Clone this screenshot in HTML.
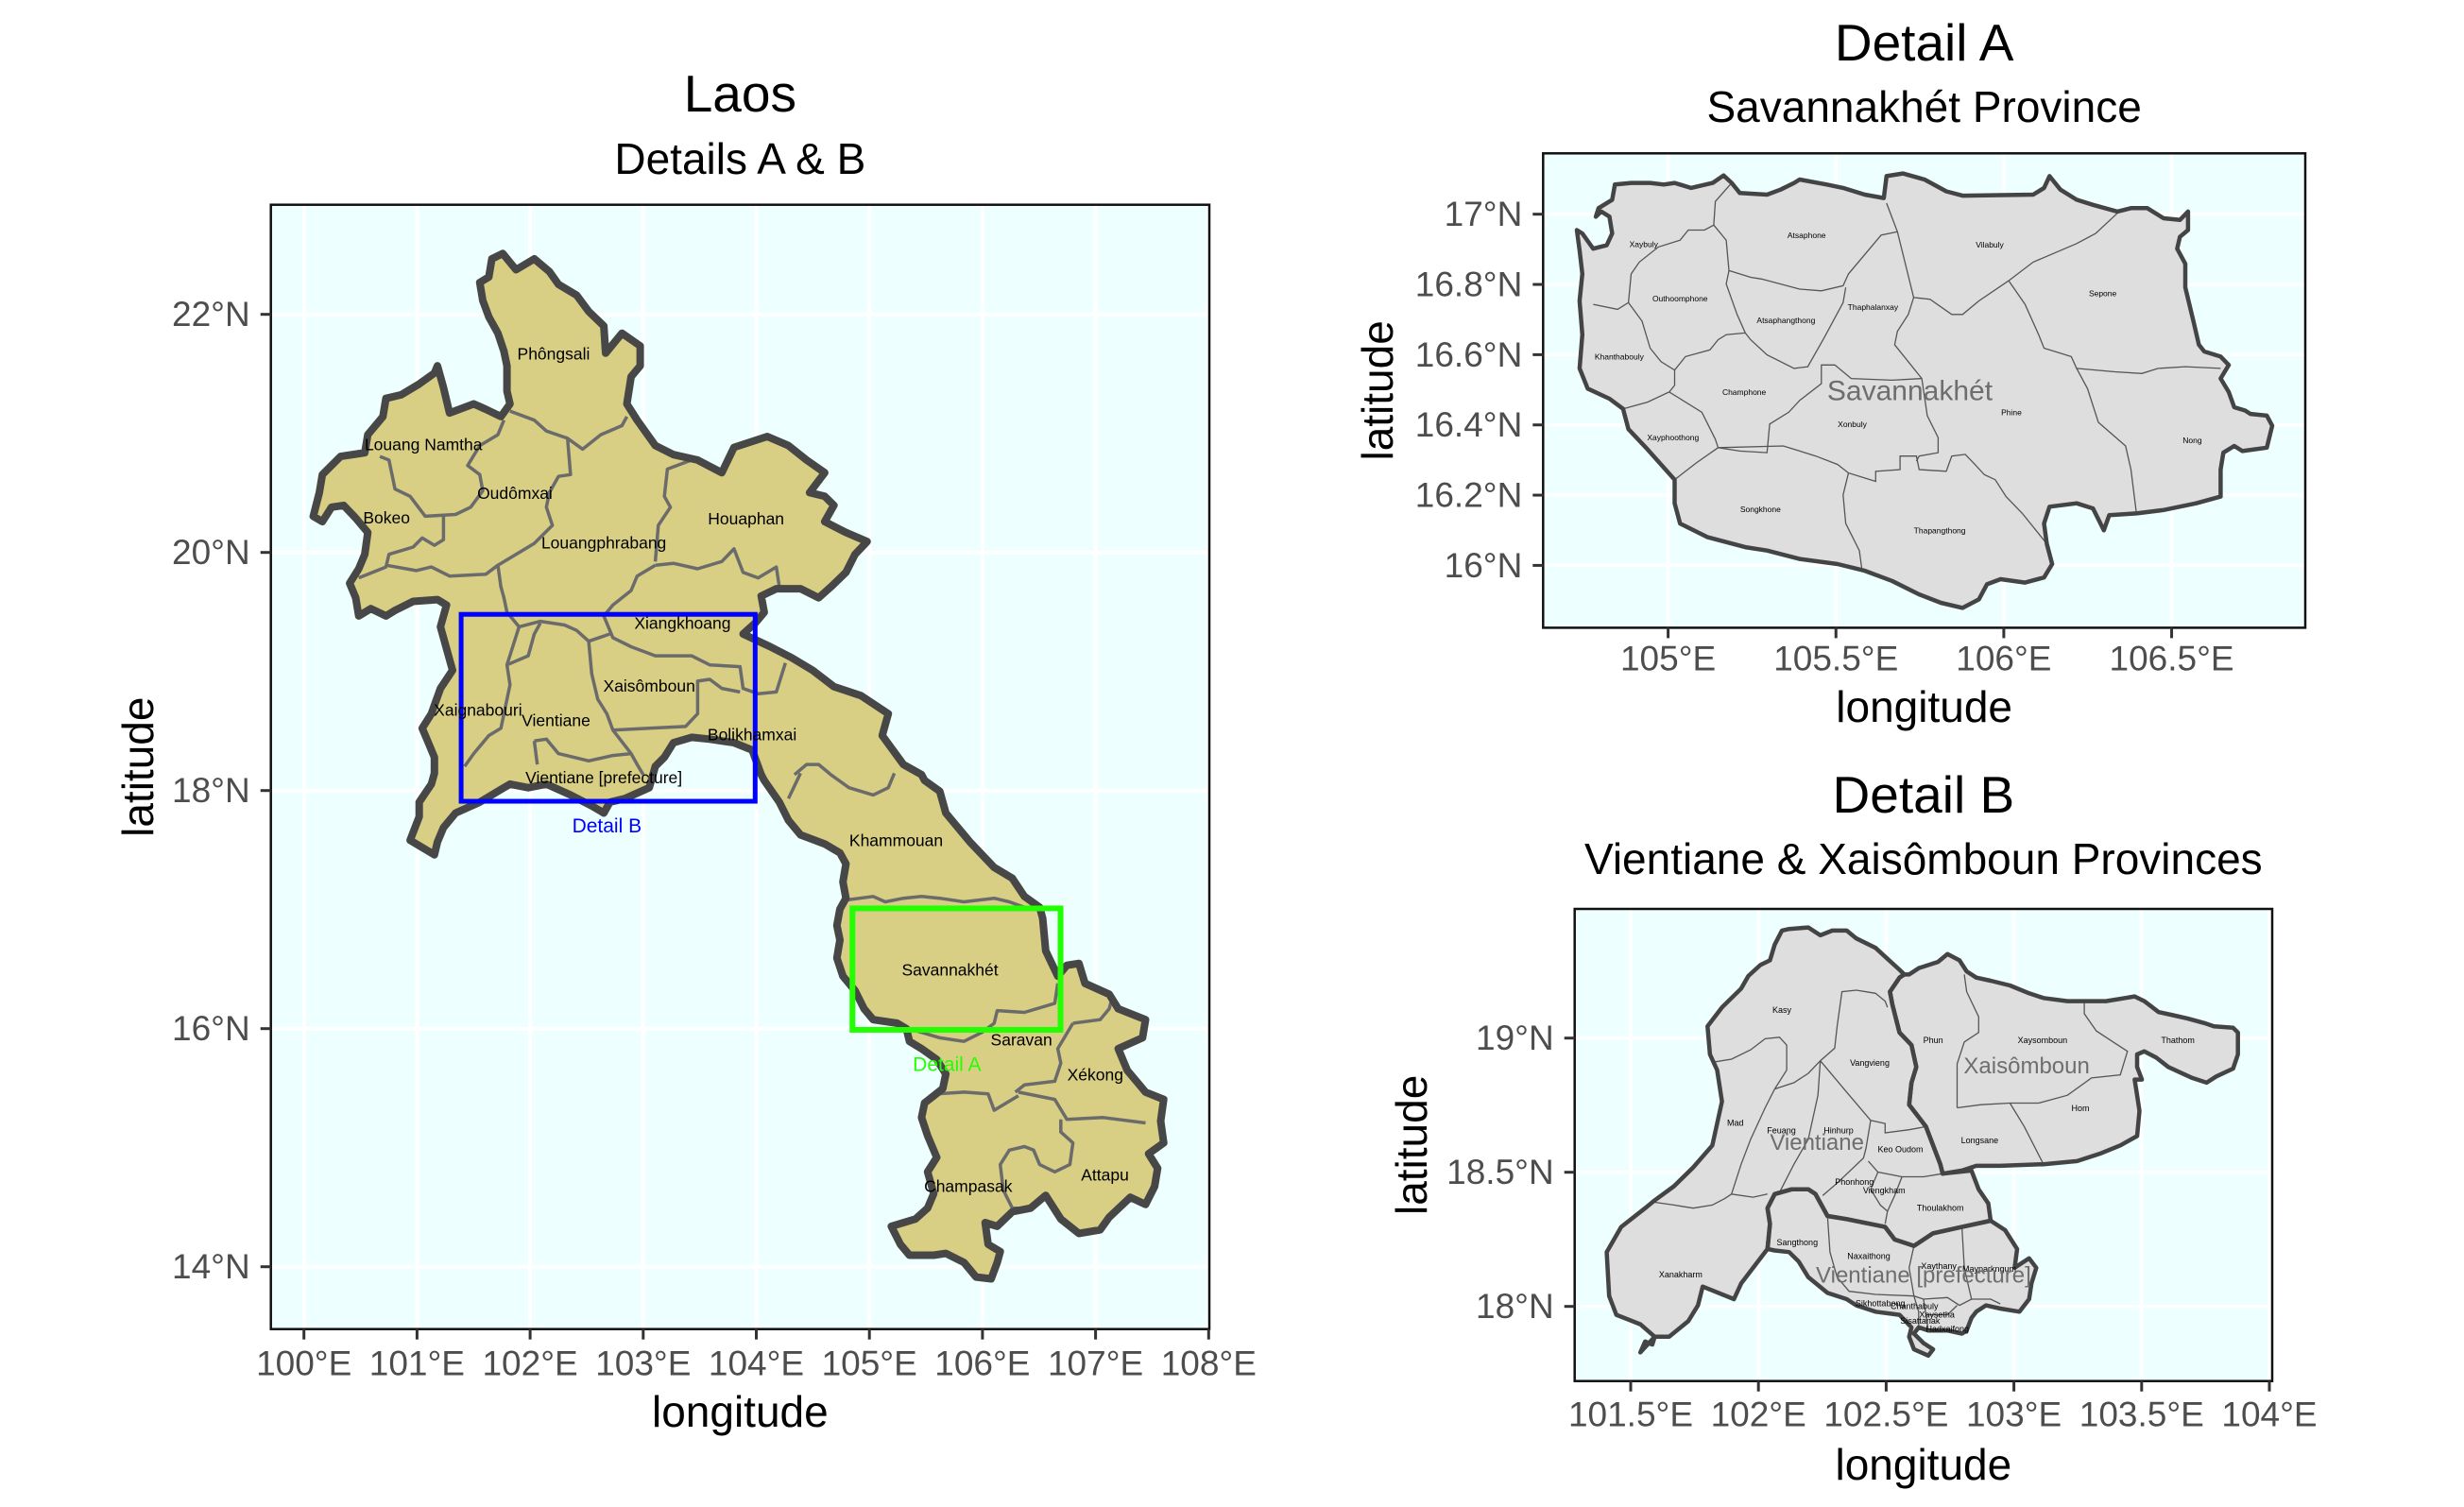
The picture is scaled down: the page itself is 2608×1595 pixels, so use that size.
<!DOCTYPE html>
<html><head><meta charset="utf-8">
<style>
html,body{margin:0;padding:0;background:#fff;}
svg{display:block;font-family:"Liberation Sans",Arial,sans-serif;}
</style></head>
<body>
<svg id="root" width="2608" height="1595" viewBox="0 0 2608 1595" xmlns="http://www.w3.org/2000/svg">
<rect x="0" y="0" width="2608" height="1595" fill="#ffffff"/>
<g id="main"></g>
<g id="detA"></g>
<g id="detB"></g>
</svg>
<script>
// ---------- data arrays ----------
const mainLonTicks=[100,101,102,103,104,105,106,107,108];
const mainLatTicks=[14,16,18,20,22];
const aLonTicks=[105,105.5,106,106.5];
const aLatTicks=[16,16.2,16.4,16.6,16.8,17];
const bLonTicks=[101.5,102,102.5,103,103.5,104];
const bLatTicks=[18,18.5,19];
const boxB=[101.39,103.99,17.91,19.48];
const boxA=[104.85,106.69,15.99,17.01];

const NS="http://www.w3.org/2000/svg";
function el(tag,attrs,parent){const e=document.createElementNS(NS,tag);for(const k in attrs)e.setAttribute(k,attrs[k]);parent.appendChild(e);return e;}
function txt(parent,x,y,s,size,fill,anchor,extra){const t=el('text',Object.assign({x:x,y:y,'font-size':size,fill:fill,'text-anchor':anchor||'middle','dominant-baseline':'central'},extra||{}),parent);t.textContent=s;return t;}
function fmt(v){return (Math.round(v*10)/10).toString();}

const TITLE=55, SUB=46, AXT=46, TICK=37;

// ---------- axis functions ----------
const M={x0:286.7,x1:1280,y0:216.7,y1:1406.7,lx:lon=>321.7+(lon-100)*119.7,ly:lat=>332.7+(22-lat)*126};
const A={x0:1633.3,x1:2440,y0:162.3,y1:664.4,lx:lon=>1765.6+(lon-105)*355.3,ly:lat=>226.7+(17-lat)*371.7};
const B={x0:1666.7,x1:2405,y0:962,y1:1461.7,lx:lon=>1726+(lon-101.5)*270.4,ly:lat=>1240.7+(18.5-lat)*284};

const zm=(p)=>[290+p[0]*0.6406,218.4+p[1]*0.3836];
const za=(p)=>[1600+p[0]*0.575,140+p[1]*0.357];
const zb=(p)=>[1660+p[0]*0.508,960+p[1]*0.332];
function pathD(pts,f,close){return pts.map((p,i)=>{const q=f(p);return (i?'L':'M')+q[0].toFixed(1)+' '+q[1].toFixed(1);}).join('')+(close?'Z':'');}
function flat(a){const r=[];for(let i=0;i<a.length;i+=2)r.push([a[i],a[i+1]]);return r;}

function panel(g,P,lonT,latT,gw,name){
  const bg=el('rect',{x:P.x0,y:P.y0,width:P.x1-P.x0,height:P.y1-P.y0,fill:'#edffff'},g);
  
  
  lonT.forEach(v=>{const x=P.lx(v);const l=el('line',{x1:x,x2:x,y1:P.y0,y2:P.y1,stroke:'#fff','stroke-width':gw},g);
    
    });
  latT.forEach(v=>{const y=P.ly(v);const l=el('line',{x1:P.x0,x2:P.x1,y1:y,y2:y,stroke:'#fff','stroke-width':gw},g);
    
    });
}
function frame(g,P,lonT,latT,lonFmt,latFmt,tickY,name){
  const f=el('rect',{x:P.x0,y:P.y0,width:P.x1-P.x0,height:P.y1-P.y0,fill:'none',stroke:'#111','stroke-width':2.5},g);
  
  
  lonT.forEach(v=>{const x=P.lx(v);el('line',{x1:x,x2:x,y1:P.y1,y2:P.y1+11,stroke:'#333','stroke-width':3},g);
    const t=txt(g,x,tickY,lonFmt(v),TICK,'#4d4d4d');
    
    });
  latT.forEach(v=>{const y=P.ly(v);el('line',{x1:P.x0-11,x2:P.x0,y1:y,y2:y,stroke:'#333','stroke-width':3},g);
    const t=txt(g,P.x0-22,y,latFmt(v),TICK,'#4d4d4d','end');
    
    });
}

// ================= MAIN MAP =================
const gm=document.getElementById('main');
panel(gm,M,mainLonTicks,mainLatTicks,4,'main');
const outline=flat([378,130,400,175,430,145,455,180,470,215,500,245,520,290,545,330,548,405,575,350,605,385,605,440,590,470,583,545,600,590,630,660,660,685,700,700,740,735,760,665,815,635,850,660,880,700,910,735,885,790,910,800,925,825,910,870,945,900,980,925,960,960,945,1010,920,1050,900,1080,870,1055,830,1055,805,1075,810,1120,795,1150,775,1180,820,1215,855,1245,890,1280,925,1325,970,1350,1015,1400,1005,1460,1040,1540,1070,1568,
1075,1584,1100,1614,1110,1674,1150,1754,1190,1824,1220,1854,1240,1904,1265,1934,1270,1964,1275,2054,1295,2124,1310,2094,1330,2089,1340,2144,1380,2174,1395,2214,1440,2244,1435,2294,1395,2324,1410,2384,1440,2444,1470,2464,1465,2524,1470,2584,1445,2614,1460,2654,1455,2704,1440,2754,1415,2734,1380,2789,1365,2824,1330,2834,1300,2794,1275,2729,1250,2764,1220,2774,1195,2814,1175,2804,1180,2864,1200,2884,1195,2914,1185,2959,1160,2954,1140,2914,1110,2889,1090,2894,1050,2894,1035,2864,1020,2814,1060,2794,1080,2764,1090,2724,1080,2664,1095,2624,1080,2564,1070,2514,1075,2474,1090,2454,1105,2434,1110,2394,1095,2354,1070,2324,1050,2304,1045,2269,1030,2254,990,2244,975,2214,960,2164,940,2124,930,2074,935,2024,930,1984,935,1939,945,1909,940,1864,945,1814,935,1784,910,1759,870,1734,850,1694,835,1644,810,1584,
805,1568,790,1500,760,1480,720,1470,690,1465,660,1480,645,1520,630,1545,620,1604,580,1634,555,1644,545,1674,525,1654,490,1624,450,1594,420,1604,390,1594,375,1609,340,1644,300,1674,280,1714,270,1754,265,1789,240,1764,225,1749,240,1684,240,1644,260,1594,265,1564,
265,1520,255,1480,245,1440,260,1400,275,1330,295,1280,285,1220,275,1160,285,1100,270,1085,230,1090,200,1115,185,1130,160,1110,140,1130,135,1080,125,1040,140,1000,150,960,155,900,135,860,115,825,95,830,80,870,65,855,75,790,80,740,110,690,150,680,155,630,180,580,185,530,210,520,240,490,265,460,270,440,280,500,290,570,330,545,350,560,375,580,390,545,385,510,385,440,380,400,370,350,355,305,345,260,340,210,355,195,360,145]);
const country=el('path',{d:pathD(outline,zm,true),fill:'#d8cf84',stroke:'none'},gm);


const borders=[
[390,565,430,590,450,620,485,640,510,670,540,630,575,605,583,580],
[380,590,370,630,340,660,320,715,340,740,345,785,325,830,300,850,250,855,225,800,200,780,190,700,175,690],
[485,640,490,740,470,745,455,790,450,830,460,880,430,930,400,960,370,990],
[280,855,280,920,265,935,245,915,230,940,190,960,185,995,140,1025],
[185,990,235,1005,260,995,290,1020,350,1015,370,990,375,1050,380,1080,385,1120,405,1160,385,1265,390,1320,375,1440,355,1460,330,1510,315,1545],
[690,700,650,725,645,800,655,830,635,880,630,980],
[630,990,660,985,700,1000,740,980,760,945,775,1010,800,1025,830,995,835,1050],
[630,990,600,1020,590,1060,560,1100,545,1130,560,1190,590,1215,630,1240,690,1240,720,1265,770,1270,775,1330,800,1345,830,1340,845,1260],
[405,1160,440,1145,480,1155,500,1170,520,1200,555,1180],
[520,1200,525,1290,535,1360,550,1400,560,1445,620,1440,680,1435,700,1400,700,1310,720,1305,740,1330,770,1340],
[385,1265,420,1240,430,1180,440,1150],
[430,1475,450,1470,470,1510,520,1530,560,1515,590,1510,600,1540,610,1568],
[430,1475,435,1540],
[560,1445,590,1510],
[860,1568,880,1540,900,1540,920,1568,950,1604,990,1624,1015,1604,1025,1564],
[870,1564,850,1634],
[945,1914,990,1904,1010,1919,1040,1909,1070,1904,1100,1909,1140,1919,1190,1909,1215,1919,1240,1934],
[1040,2264,1100,2294,1140,2304,1170,2279,1190,2254,1195,2219,1240,2224,1290,2199,1295,2144],
[1320,2254,1365,2244,1380,2214,1385,2184],
[1320,2254,1295,2324,1300,2364,1290,2414,1240,2424,1225,2444],
[1095,2449,1140,2444,1180,2449,1190,2494,1210,2474,1230,2454],
[1230,2444,1290,2464,1310,2519,1370,2514,1440,2529],
[1300,2519,1300,2554,1320,2584,1315,2644,1290,2664,1265,2644,1255,2604,1240,2594,1215,2604,1200,2644,1205,2714,1220,2764,1240,2764]
];
borders.forEach(b=>{const p=el('path',{d:pathD(flat(b),zm,false),fill:'none',stroke:'#6b6b6b','stroke-width':3.5,'stroke-linejoin':'round'},gm);
  
  });
const countryLine=el('path',{d:pathD(outline,zm,true),fill:'none',stroke:'#474747','stroke-width':8,'stroke-linejoin':'round'},gm);


const provNames=['Phôngsali','Louang Namtha','Oudômxai','Bokeo','Houaphan','Louangphrabang','Xiangkhoang','Xaisômboun','Xaignabouri','Vientiane','Bolikhamxai','Vientiane [prefecture]','Khammouan','Savannakhét','Saravan','Xékong','Attapu','Champasak'];
const provPos=[[462,407],[247,657],[398,792],[186,859],[780,862],[545,928],[675,1150],[620,1323],[337,1390],[466,1418],[790,1457],[545,1576],[1028,1750],[1117,2107],[1235,2299],[1357,2396],[1373,2672],[1147,2704]];
const rb=el('rect',{x:M.lx(boxB[0]),y:M.ly(boxB[3]),width:M.lx(boxB[1])-M.lx(boxB[0]),height:M.ly(boxB[2])-M.ly(boxB[3]),fill:'none',stroke:'#0000ff','stroke-width':5},gm);


const ra=el('rect',{x:M.lx(boxA[0]),y:M.ly(boxA[3]),width:M.lx(boxA[1])-M.lx(boxA[0]),height:M.ly(boxA[2])-M.ly(boxA[3]),fill:'none',stroke:'#22ff00','stroke-width':6},gm);


provNames.forEach((n,i)=>{const q=zm(provPos[i]);const t=txt(gm,q[0],q[1],n,17.5,'#000');
  
  });
{const q=zm([550,1711]);const t=txt(gm,q[0],q[1],'Detail B',21,'#0000ff');
 
 }
{const q=zm([1112,2369]);const t=txt(gm,q[0],q[1],'Detail A',21,'#22ff00');
 
 }
frame(gm,M,mainLonTicks,mainLatTicks,v=>v+'°E',v=>v+'°N',1443,'main');
{const cx=(M.x0+M.x1)/2;
 let t=txt(gm,cx,99,'Laos',TITLE,'#000');
 t=txt(gm,cx,168,'Details A & B',SUB,'#000');
 t=txt(gm,cx,1494,'longitude',AXT,'#000');
 t=txt(gm,0,0,'latitude',AXT,'#000','middle',{transform:'translate(146,'+((M.y0+M.y1)/2)+') rotate(-90)'});}

// ================= DETAIL A =================
const ga=document.getElementById('detA');
panel(ga,A,aLonTicks,aLatTicks,3.5,'detail-a');
const aOut=flat([155,250,165,235,180,250,185,300,175,335,150,345,130,300,120,290,125,350,130,420,125,500,130,600,125,700,140,760,180,790,205,820,215,880,250,940,300,1030,300,1100,310,1160,360,1200,430,1230,470,1240,530,1265,600,1280,650,1300,700,1330,750,1370,790,1395,830,1410,860,1385,875,1340,900,1325,945,1335,980,1320,995,1280,985,1220,980,1160,990,1110,1040,1100,1070,1115,1090,1180,1100,1135,1150,1130,1200,1120,1260,1100,1305,1080,1305,1000,1310,950,1330,930,1345,945,1390,935,1400,870,1390,840,1360,835,1350,825,1330,815,1320,770,1305,730,1320,690,1305,665,1275,650,1265,630,1255,560,1240,460,1240,390,1225,345,1230,310,1245,290,1245,235,1230,260,1200,255,1170,225,1140,225,1115,235,1070,215,1040,200,1010,170,990,130,980,165,960,185,830,188,800,175,760,140,720,122,690,130,685,195,650,185,610,165,580,155,530,140,520,150,495,170,470,185,420,180,405,150,390,128,370,150,330,165,300,150,280,155,255,150,220,150,190,155,185,200,160,225]);
let p=el('path',{d:pathD(aOut,za,true),fill:'#dedede',stroke:'none'},ga);


const aLines=[
[405,150,375,205,372,275,355,290,325,290,310,320,270,340,235,385,220,420,215,505,195,525,150,510],
[372,275,395,320,400,410,440,430,460,435,530,465,570,470,610,455,620,420,680,305,710,295,690,210],
[400,410,395,450,415,540,430,595,440,615,470,660,520,700,545,695,575,610,610,505,615,460],
[215,505,240,560,255,640,275,680,300,705,300,750,290,770,250,800,205,820],
[300,705,320,665,365,645,380,615,395,600,430,595],
[290,770,310,790,350,830,375,910,380,935,420,945,470,950,475,865,510,830,530,795,570,745,570,690,595,690,625,730,700,735,755,730],
[710,295,740,490,730,540,710,590,705,630,730,680,755,730,765,840,785,905,785,950,750,960,745,975],
[740,490,770,495,810,540,830,540,860,500,915,440,960,385,1040,330,1075,300,1115,240],
[915,440,945,510,970,600,980,640,1030,665,1040,700,1060,760,1080,860,1130,930,1140,1000,1150,1130],
[1040,700,1110,710,1160,715,1190,700,1240,695,1305,700],
[380,935,500,930,560,960,600,985,620,1010,670,1035,670,1005,715,1000,715,960,745,960,750,1000,800,1005,810,960,835,955,850,980,870,1015,890,1030,910,1080,940,1130,985,1220],
[620,1010,610,1075,615,1160,640,1240,645,1300],
[300,1030,340,980,380,935]];
aLines.forEach(b=>{const q=el('path',{d:pathD(flat(b),za,false),fill:'none',stroke:'#555','stroke-width':1.3},ga);
  
  });
p=el('path',{d:pathD(aOut,za,true),fill:'none',stroke:'#444','stroke-width':4.5,'stroke-linejoin':'round'},ga);


const aNames=['Xaybuly','Atsaphone','Vilabuly','Outhoomphone','Sepone','Thaphalanxay','Atsaphangthong','Khanthabouly','Champhone','Phine','Xonbuly','Nong','Xayphoothong','Songkhone','Thapangthong'];
const aPos=[[243,332],[543,305],[880,333],[310,493],[1088,477],[665,518],[505,557],[198,665],[428,770],[920,830],[627,865],[1253,913],[297,905],[458,1118],[788,1180]];
aNames.forEach((n,i)=>{const q=za(aPos[i]);const t=txt(ga,q[0],q[1],n,8.5,'#000');
  
  });
{const q=za([733,768]);const t=txt(ga,q[0],q[1],'Savannakhét',30,'#6e6e6e');
 
 }
frame(ga,A,aLonTicks,aLatTicks,v=>fmt(v)+'°E',v=>fmt(v)+'°N',697,'detail-a');
{const cx=(A.x0+A.x1)/2;
 let t=txt(ga,cx,45,'Detail A',TITLE,'#000');
 t=txt(ga,cx,113,'Savannakhét Province',SUB,'#000');
 t=txt(ga,cx,748,'longitude',AXT,'#000');
 t=txt(ga,0,0,'latitude',AXT,'#000','middle',{transform:'translate(1458,'+((A.y0+A.y1)/2)+') rotate(-90)'});}

// ================= DETAIL B =================
const gb=document.getElementById('detB');
panel(gb,B,bLonTicks,bLatTicks,3.5,'detail-b');
const westSide=[150,1420,160,1385,175,1395,180,1370,150,1330,100,1300,85,1240,80,1100,110,1020,160,960,180,935,220,890,260,830,300,760,320,620,310,520,295,470,290,380,320,320,340,290,360,260,375,220,400,185,420,170,430,120,445,75,460,70,500,65,525,90,550,75,580,75,600,100,640,130,665,165,690,200,700,215];
const xsBorder=[700,215,690,225,670,270,675,310,690,400,715,440,725,510,715,560,710,630,745,700,760,760,775,820,780,850];
const vSouth=[840,840,855,900,875,945,880,1000,820,1020,760,1040,720,1080,680,1060,660,1020,580,995,540,985,515,915,500,900,465,900,430,915,415,960,420,1010,415,1090,360,1200,345,1250,280,1210,270,1270,250,1320,210,1370,180,1370];
const vPoly=flat(westSide.concat(xsBorder.slice(2),vSouth));
const xsEast=[780,850,820,840,850,825,900,825,990,820,1060,810,1110,785,1150,760,1185,730,1190,650,1185,600,1180,550,1195,550,1185,510,1185,470,1200,460,1225,480,1250,510,1300,545,1330,560,1350,540,1385,515,1395,470,1395,400,1385,385,1345,380,1325,370,1290,355,1260,345,1230,335,1200,300,1180,285,1160,290,1120,300,1080,300,1040,300,990,290,960,275,920,250,880,235,850,225,830,205,815,170,790,150,770,175,730,195,710,215];
const xsPoly=flat(xsEast.concat(xsBorder));
const prefPoly=flat([415,1090,420,1010,415,960,430,915,465,900,500,900,515,915,540,985,580,995,660,1020,680,1060,720,1080,760,1040,820,1020,880,1000,910,1030,935,1090,930,1150,960,1120,975,1150,965,1200,960,1250,940,1290,900,1280,870,1270,850,1290,840,1310,830,1350,820,1360,790,1350,750,1350,730,1340,720,1360,740,1390,760,1410,750,1430,720,1410,710,1370,715,1340,690,1300,640,1290,600,1270,580,1250,540,1230,500,1180,480,1130,460,1100,430,1095]);
[[vPoly,'vientiane-province-fill'],[xsPoly,'xaisomboun-province-fill'],[prefPoly,'vientiane-prefecture-fill']].forEach(a=>{
  const q=el('path',{d:pathD(a[0],zb,true),fill:'#dedede',stroke:'none'},gb);
  
  });
const bLines=[
[300,495,340,485,380,455,410,420,440,415,455,440,455,520,430,580,410,640,380,740,360,820,340,915],
[430,580,470,560,500,530,525,490,555,450,560,380,570,270,600,265,640,275,660,300,665,320],
[525,490,520,600,500,740,470,820,440,910],
[525,490,580,590,630,680,660,690,660,720,710,710,745,700],
[630,680,620,770,615,800,560,880,530,920],
[625,810,645,845,695,860,740,860,780,850],
[645,845,630,900,650,950,665,970,660,1010],
[695,860,680,920,665,970],
[175,940,220,950,260,960,300,950,325,930,340,915,385,925,415,915],
[825,215,830,270,855,350,855,400,825,430,810,500,810,640],
[810,640,860,630,920,625,980,625,1040,600,1090,545,1150,535,1165,460,1135,430,1100,395,1075,340,1075,300],
[920,625,950,700,990,820],
[540,985,545,1100,560,1180,585,1225,640,1235,720,1240,740,1250,790,1245,815,1270,840,1250,880,1250,900,1265],
[720,1080,710,1150,720,1240,730,1290,730,1340],
[820,1020,825,1150,840,1250],
[740,1250,745,1300,790,1300,810,1270],
[745,1300,750,1350]];
bLines.forEach(b=>{const q=el('path',{d:pathD(flat(b),zb,false),fill:'none',stroke:'#555','stroke-width':1.3},gb);
  
  });
[[vPoly,'vientiane-province-outline'],[xsPoly,'xaisomboun-province-outline'],[prefPoly,'vientiane-prefecture-outline']].forEach(a=>{
  const q=el('path',{d:pathD(a[0],zb,true),fill:'none',stroke:'#444','stroke-width':4.5,'stroke-linejoin':'round'},gb);
  
  });
const bNames=['Kasy','Phun','Xaysomboun','Thathom','Vangvieng','Hom','Mad','Feuang','Hinhurp','Longsane','Keo Oudom','Phonhong','Viengkham','Thoulakhom','Sangthong','Naxaithong','Xaythany','Mayparkngum','Xanakharm','Sikhottabong','Chanthabuly','Xaysetha','Sisattanak','Hadxaifong'];
const bPos=[[445,328],[760,425],[988,425],[1270,425],[628,497],[1067,641],[348,688],[444,713],[563,713],[857,744],[692,772],[596,877],[658,904],[775,960],[477,1070],[626,1113],[772,1145],[877,1153],[234,1172],[650,1264],[721,1272],[768,1300],[733,1320],[790,1345]];
bNames.forEach((n,i)=>{const q=zb(bPos[i]);const t=txt(gb,q[0],q[1],n,9,'#000');
  
  });
const bigNames=['Xaisômboun','Vientiane','Vientiane [prefecture]'];
const bigPos=[[955,508],[518,752],[740,1175]];
bigNames.forEach((n,i)=>{const q=zb(bigPos[i]);const t=txt(gb,q[0],q[1],n,24,'#6e6e6e');
  
  });
frame(gb,B,bLonTicks,bLatTicks,v=>fmt(v)+'°E',v=>fmt(v)+'°N',1497,'detail-b');
{const cx=(B.x0+B.x1)/2;
 let t=txt(gb,cx,841,'Detail B',TITLE,'#000');
 t=txt(gb,cx,909,'Vientiane & Xaisômboun Provinces',SUB,'#000');
 t=txt(gb,cx,1550,'longitude',AXT,'#000');
 t=txt(gb,0,0,'latitude',AXT,'#000','middle',{transform:'translate(1494,'+((B.y0+B.y1)/2)+') rotate(-90)'});}
</script>
</body></html>
